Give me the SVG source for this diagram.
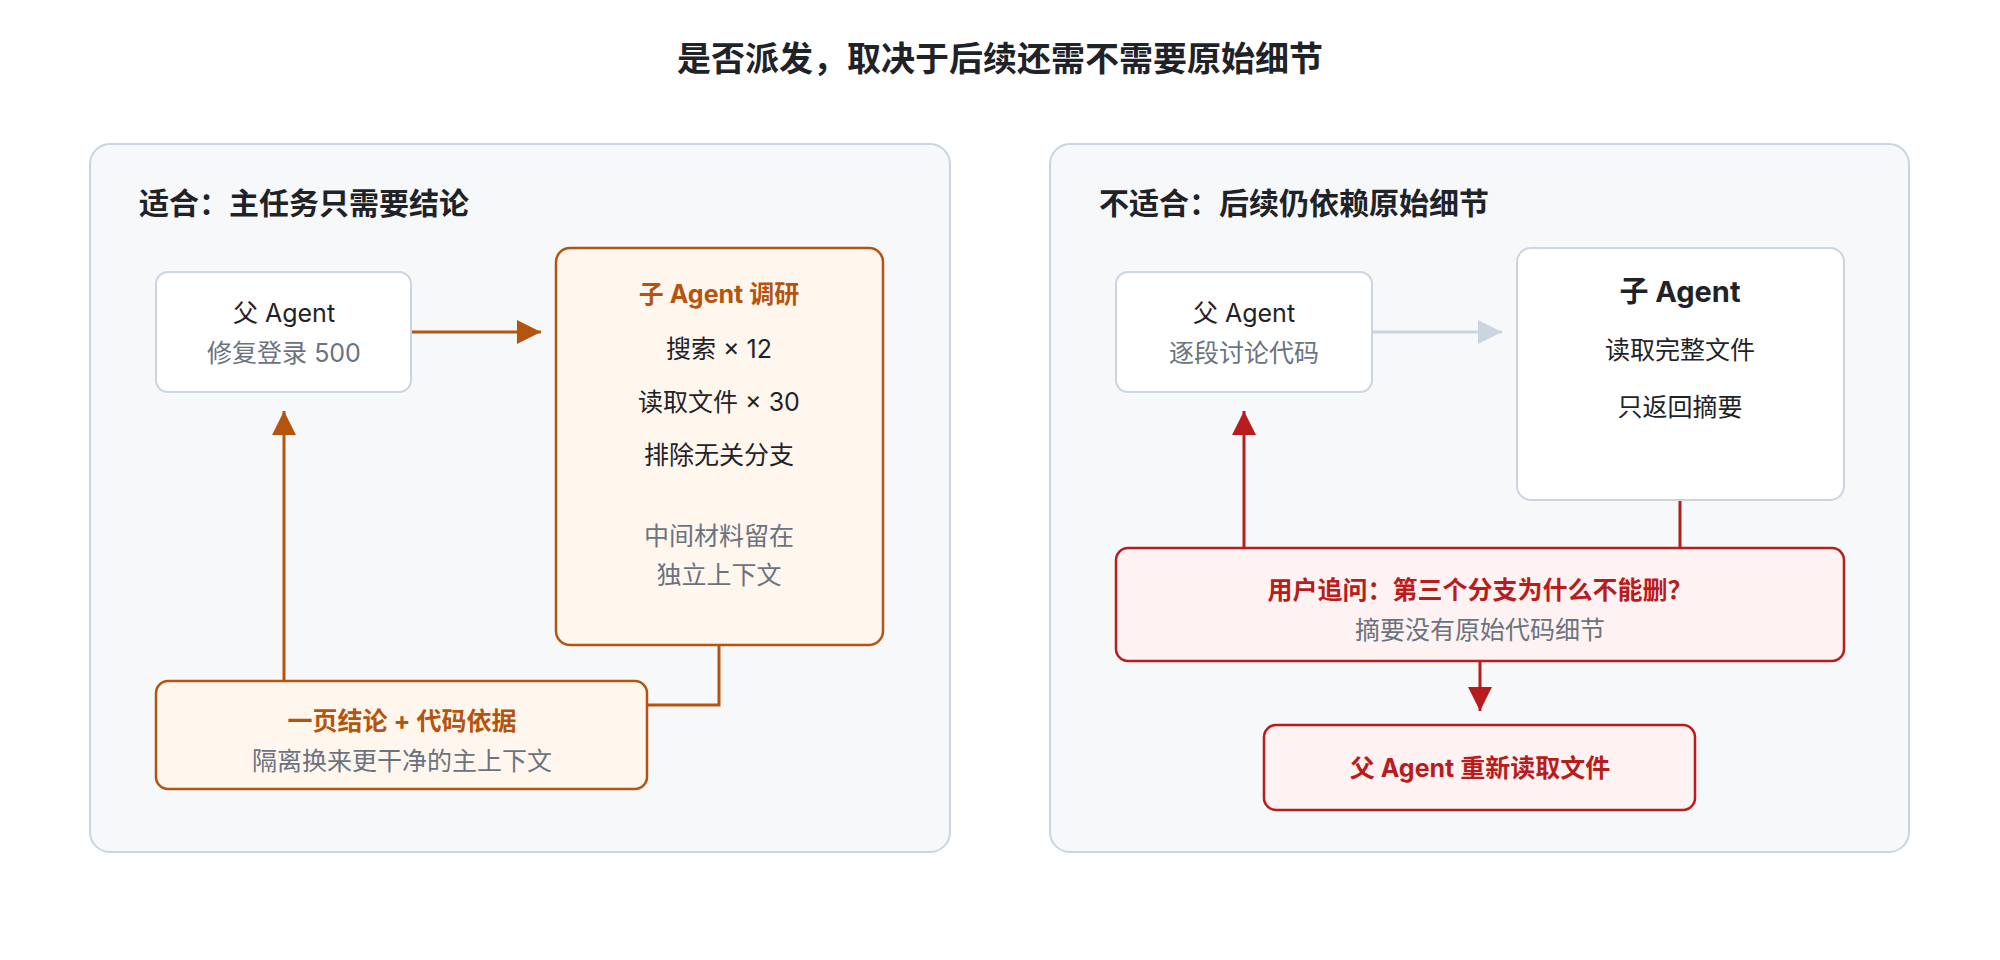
<svg xmlns="http://www.w3.org/2000/svg" width="2000" height="960" viewBox="0 0 2000 960">
<style>
text{font-family:"Inter","Noto Sans CJK SC",sans-serif;text-anchor:middle}
.t{font-size:34px;font-weight:700;fill:#1f2328}
.h{font-size:30px;font-weight:700;fill:#1f2328;text-anchor:start}
.n{font-size:25px;fill:#1f2328}
.g{font-size:25px;fill:#6b7280}
.bo{font-size:25px;font-weight:700;fill:#b5540f}
.br{font-size:25px;font-weight:700;fill:#b91c1c}
.panel{fill:#f6f8fa;stroke:#cbd5e1;stroke-width:2}
.wb{fill:#fff;stroke:#cbd5e1;stroke-width:2}
.ob{fill:#fff7ed;stroke:#b5540f;stroke-width:2.5}
.rb{fill:#fef2f2;stroke:#b91c1c;stroke-width:2.5}
</style>
<defs>
<marker id="ao" markerWidth="24" markerHeight="24" refX="24" refY="12" orient="auto" markerUnits="userSpaceOnUse"><path d="M0,0L24,12L0,24Z" fill="#b5540f"/></marker>
<marker id="ag" markerWidth="24" markerHeight="24" refX="24" refY="12" orient="auto" markerUnits="userSpaceOnUse"><path d="M0,0L24,12L0,24Z" fill="#cbd5e1"/></marker>
<marker id="ar" markerWidth="24" markerHeight="24" refX="24" refY="12" orient="auto" markerUnits="userSpaceOnUse"><path d="M0,0L24,12L0,24Z" fill="#b91c1c"/></marker>
</defs>
<rect width="2000" height="960" fill="#fff"/>
<text class="t" x="1000" y="71">是否派发，取决于后续还需不需要原始细节</text>
<g id="panel-left"><rect class="panel" x="90" y="144" width="860" height="708" rx="20"/><text class="h" x="139" y="214">适合：主任务只需要结论</text></g>
<g id="panel-right"><rect class="panel" x="1050" y="144" width="859" height="708" rx="20"/><text class="h" x="1099" y="214">不适合：后续仍依赖原始细节</text></g>
<g id="connectors" fill="none" stroke-width="3">
<path d="M411,332H541" stroke="#b5540f" marker-end="url(#ao)"/>
<path d="M719,645V705H647" stroke="#b5540f"/>
<path d="M284,681V411" stroke="#b5540f" marker-end="url(#ao)"/>
<path d="M1372,332H1502" stroke="#cbd5e1" marker-end="url(#ag)"/>
<path d="M1680,500V548" stroke="#b91c1c"/>
<path d="M1244,548V411" stroke="#b91c1c" marker-end="url(#ar)"/>
<path d="M1480,661V711" stroke="#b91c1c" marker-end="url(#ar)"/>
</g>
<g id="l-parent"><rect class="wb" x="156" y="272" width="255" height="120" rx="12"/><text class="n" x="284" y="322">父 Agent</text><text class="g" x="284" y="362">修复登录 500</text></g>
<g id="l-child"><rect class="ob" x="556" y="248" width="327" height="397" rx="14"/>
<text class="bo" x="719" y="303">子 Agent 调研</text>
<text class="n" x="719" y="358">搜索 × 12</text>
<text class="n" x="719" y="411">读取文件 × 30</text>
<text class="n" x="719" y="464">排除无关分支</text>
<text class="g" x="719" y="545">中间材料留在</text>
<text class="g" x="719" y="584">独立上下文</text></g>
<g id="l-result"><rect class="ob" x="156" y="681" width="491" height="108" rx="12"/><text class="bo" x="402" y="730">一页结论 + 代码依据</text><text class="g" x="402" y="770">隔离换来更干净的主上下文</text></g>
<g id="r-parent"><rect class="wb" x="1116" y="272" width="256" height="120" rx="12"/><text class="n" x="1244" y="322">父 Agent</text><text class="g" x="1244" y="362">逐段讨论代码</text></g>
<g id="r-child"><rect class="wb" x="1517" y="248" width="327" height="252" rx="14"/><text class="n" x="1680" y="302" style="font-size:29px;font-weight:700">子 Agent</text><text class="n" x="1680" y="359">读取完整文件</text><text class="n" x="1680" y="416">只返回摘要</text></g>
<g id="r-question"><rect class="rb" x="1116" y="548" width="728" height="113" rx="12"/><text class="br" x="1480" y="599">用户追问：第三个分支为什么不能删？</text><text class="g" x="1480" y="639">摘要没有原始代码细节</text></g>
<g id="r-reread"><rect class="rb" x="1264" y="725" width="431" height="85" rx="12"/><text class="br" x="1480" y="777">父 Agent 重新读取文件</text></g>
</svg>
